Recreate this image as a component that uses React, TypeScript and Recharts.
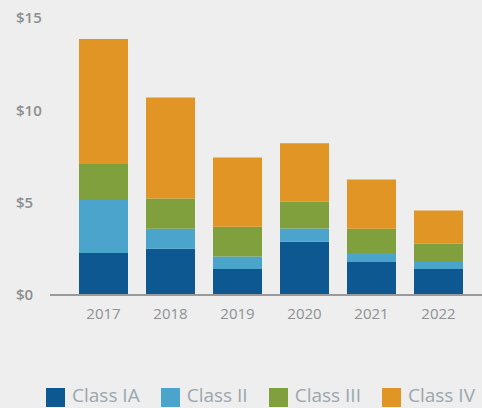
import { BarChart, Bar, XAxis, YAxis, Legend } from 'recharts';

const years = ['2017', '2018', '2019', '2020', '2021', '2022'];
const classIA = [2.28, 2.5, 1.41, 2.88, 1.79, 1.41];
const classII = [2.87, 1.09, 0.67, 0.72, 0.49, 0.38];
const classIII = [1.95, 1.63, 1.62, 1.45, 1.31, 0.98];
const classIV = [6.76, 5.48, 3.75, 3.17, 2.66, 1.81];
const yTicks = [0, 5, 10, 15];

const series = [
  { key: 'ia', name: 'Class IA', color: '#0e5892' },
  { key: 'ii', name: 'Class II', color: '#4ba4cc' },
  { key: 'iii', name: 'Class III', color: '#7fa03d' },
  { key: 'iv', name: 'Class IV', color: '#e09524' },
];

const data = years.map((year, i) => ({
  year,
  ia: classIA[i],
  ii: classII[i],
  iii: classIII[i],
  iv: classIV[i],
}));

const font = '"Open Sans", sans-serif';

const YTick = ({ y, payload }: any) => (
  <text x={16} y={y} dy="0.36em" textAnchor="start" fill="#8b8e91" fontSize={15} fontWeight={600} fontFamily={font}>
    ${payload.value}
  </text>
);

const XTick = ({ x, payload }: any) => (
  <text x={x} y={319} textAnchor="middle" fill="#8e9194" fontSize={15} fontFamily={font}>
    {payload.value}
  </text>
);

// legend row kept fully inside the 408px frame
const LegendContent = () => (
  <div style={{ height: 42, display: 'flex', alignItems: 'flex-start', paddingLeft: 46, whiteSpace: 'nowrap' }}>
    {series.map((s) => (
      <div key={s.key} style={{ display: 'flex', alignItems: 'center', height: 25, marginRight: 21, flexShrink: 0 }}>
        <div style={{ width: 19, height: 19, background: s.color, marginRight: 7, flexShrink: 0, marginTop: 4 }} />
        <span style={{ fontFamily: font, fontSize: 19, lineHeight: '25px', color: '#9ba6ad', whiteSpace: 'nowrap' }}>
          {s.name}
        </span>
      </div>
    ))}
  </div>
);

const App = () => {
  return (
    <div style={{ position: 'absolute', left: 0, top: 0, width: 482, height: 408, overflow: 'hidden', background: '#edeeed' }}>
      <BarChart width={482} height={425} data={data} margin={{ top: 18, right: 0, left: 0, bottom: 0 }} barSize={49}>
        <XAxis
          dataKey="year"
          axisLine={{ stroke: '#9a9a9a', strokeWidth: 2 }}
          tickLine={false}
          tick={<XTick />}
          height={88}
          padding={{ left: 20, right: 10 }}
        />
        <YAxis
          domain={[0, 15]}
          ticks={yTicks}
          axisLine={false}
          tickLine={false}
          tick={<YTick />}
          width={50}
        />
        <Legend verticalAlign="bottom" content={<LegendContent />} wrapperStyle={{ width: 482, left: 0 }} />
        {series.map((s) => (
          <Bar key={s.key} dataKey={s.key} name={s.name} stackId="a" fill={s.color} isAnimationActive={false} />
        ))}
      </BarChart>
    </div>
  );
};

export default App;
